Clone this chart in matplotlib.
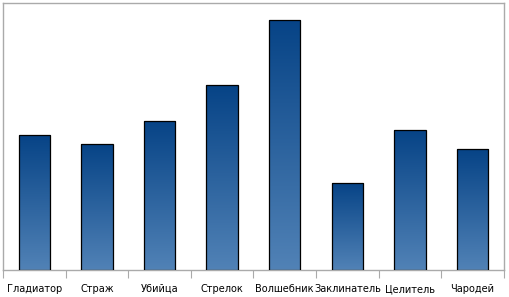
import numpy as np
import matplotlib.pyplot as plt
from matplotlib.colors import LinearSegmentedColormap

# данные
categories = ['Гладиатор', 'Страж', 'Убийца', 'Стрелок', 'Волшебник',
              'Заклинатель', 'Целитель', 'Чародей']
values = [135, 126, 149, 185, 250, 87, 140, 121]

fig = plt.figure(figsize=(5.09, 2.97), dpi=100, facecolor='white')
ax = fig.add_axes([0.0059, 0.0909, 0.984, 0.899])

cmap = LinearSegmentedColormap.from_list('bars', ['#5182b6', '#064386'])
grad = np.linspace(0, 1, 256).reshape(-1, 1)

bars = ax.bar(range(len(categories)), values, width=0.5,
              facecolor='none', edgecolor='black', linewidth=0.9, zorder=3)
for b in bars:
    x0, y0 = b.get_x(), b.get_y()
    w, h = b.get_width(), b.get_height()
    im = ax.imshow(grad, cmap=cmap, aspect='auto', origin='lower',
                   extent=[x0, x0 + w, y0, y0 + h], zorder=2)
    im.set_clip_path(b)

ax.set_xlim(-0.5, len(categories) - 0.5)
ax.set_ylim(0, 267)

ax.set_yticks([])
ax.set_xticks(np.arange(-0.5, len(categories), 1.0))
ax.set_xticklabels([])
ax.set_xticks(range(len(categories)), minor=True)
ax.set_xticklabels(categories, minor=True, fontsize=7)
ax.tick_params(axis='x', which='major', length=6, color='#aaaaaa', width=0.8)
ax.tick_params(axis='x', which='minor', length=0, pad=10)

for s in ax.spines.values():
    s.set_color('#aaaaaa')
    s.set_linewidth(1.0)

plt.savefig('out.png', dpi=100)
